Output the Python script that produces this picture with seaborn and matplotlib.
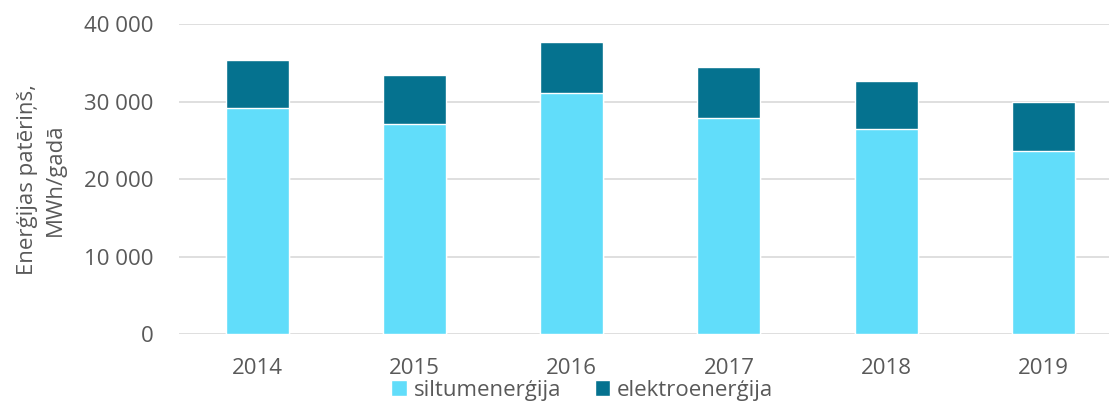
import pandas as pd
import numpy as np
import matplotlib.pyplot as plt
import seaborn as sns
from matplotlib.ticker import FuncFormatter
from matplotlib.patches import Patch

sns.set_style("white")
plt.rcParams['font.family'] = ['Open Sans', 'DejaVu Sans']

years = ["2014", "2015", "2016", "2017", "2018", "2019"]
siltum = [29150, 27150, 31100, 27900, 26450, 23700]
elektro = [6250, 6350, 6600, 6600, 6250, 6250]

light = "#61DDFA"
dark = "#05728F"
text_col = "#595959"

df = pd.DataFrame({"year": years, "siltum": siltum, "elektro": elektro})
df["total"] = df["siltum"] + df["elektro"]

fig, ax = plt.subplots(figsize=(11.09, 4.01), dpi=100)
# the plot area runs past the right edge of the picture, as in the reference
fig.subplots_adjust(left=0.161, right=1.0117, bottom=0.167, top=0.939)

sns.barplot(data=df, x="year", y="total", color=dark, width=0.40,
            saturation=1, ax=ax, zorder=3)
sns.barplot(data=df, x="year", y="siltum", color=light, width=0.40,
            saturation=1, ax=ax, zorder=4)

ax.set_ylim(0, 40000)
ax.set_yticks([0, 10000, 20000, 30000, 40000])
ax.yaxis.set_major_formatter(FuncFormatter(lambda v, p: f"{int(v):,}".replace(",", " ")))
ax.grid(axis="y", color="#D9D9D9", linewidth=1.2, zorder=0)
ax.set_axisbelow(True)
for s in ax.spines.values():
    s.set_visible(False)

ax.tick_params(axis="both", length=0, labelsize=16, labelcolor=text_col)
ax.tick_params(axis="x", pad=17)
ax.tick_params(axis="y", pad=18)
ax.set_xlabel("")
ax.set_ylabel("Enerģijas patēriņš,\nMWh/gadā", fontsize=16, color=text_col,
              labelpad=13, linespacing=1.45)

handles = [Patch(facecolor=light, label="siltumenerģija"),
           Patch(facecolor=dark, label="elektroenerģija")]
fig.legend(handles=handles, loc="center", bbox_to_anchor=(0.525, 0.027), ncol=2,
           frameon=False, fontsize=16, labelcolor=text_col, handlelength=0.7,
           handleheight=0.7, handletextpad=0.3, columnspacing=1.5)

fig.savefig("out.png", dpi=100)
